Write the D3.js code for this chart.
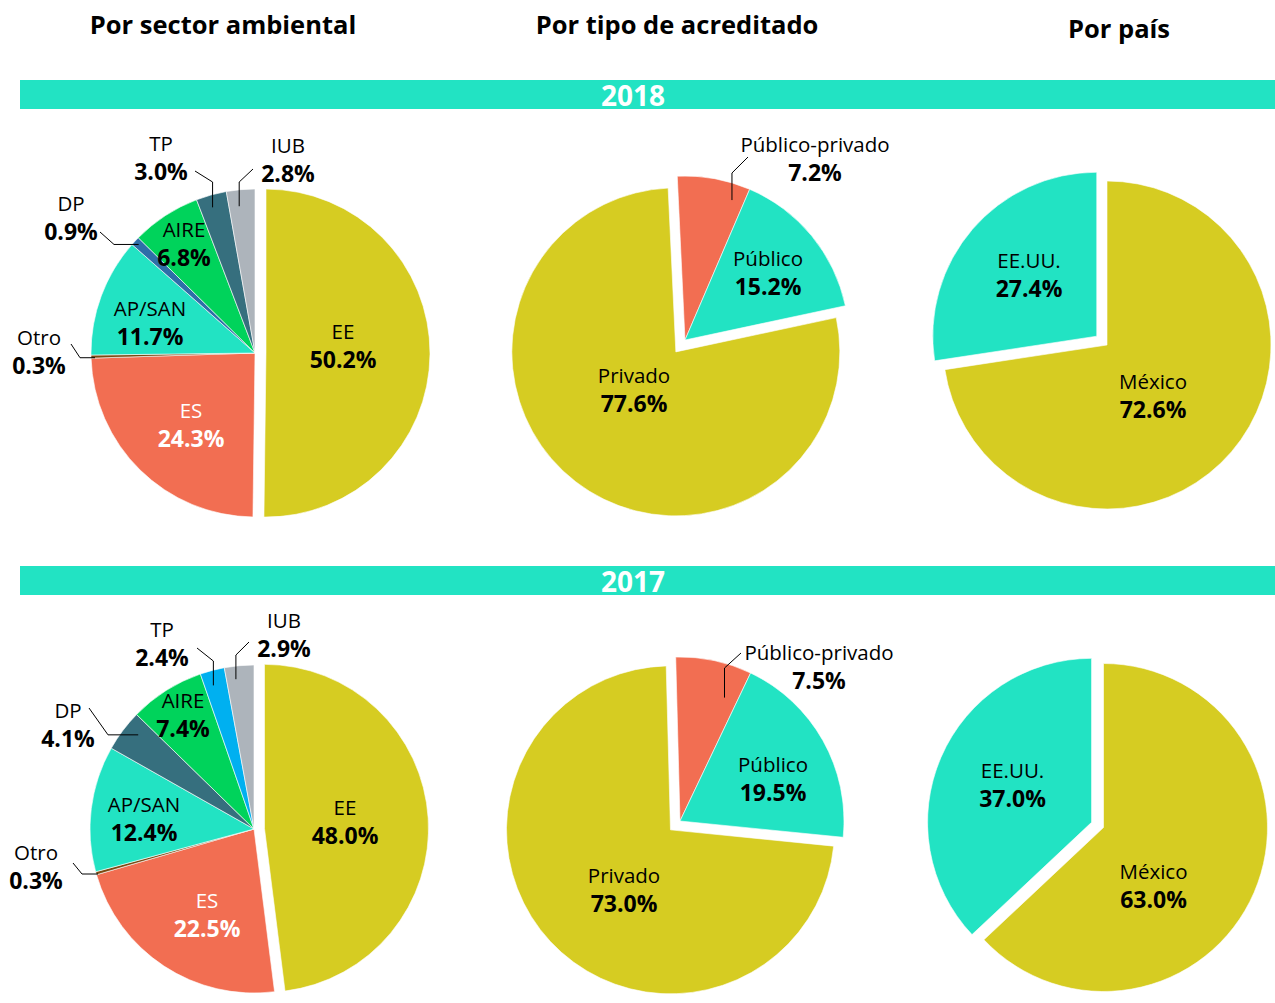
<!DOCTYPE html>
<html lang="es">
<head>
<meta charset="UTF-8">
<title>Acreditados por sector, tipo y país</title>
<script src="https://d3js.org/d3.v7.min.js"></script>
<style>
  body { margin: 0; background: #fff; font-family: "Open Sans", sans-serif; }
  .title { font-size: 25.5px; font-weight: bold; text-anchor: middle; }
  .year { font-size: 28px; font-weight: bold; fill: #fff; text-anchor: middle; }
  .cat { font-size: 20.5px; text-anchor: middle; dominant-baseline: central; }
  .pct { font-size: 23px; font-weight: bold; text-anchor: middle; dominant-baseline: central; }
  .leader { fill: none; stroke: #000; stroke-width: 1; }
</style>
</head>
<body>
<svg width="1275" height="1003"></svg>
<script>
const titles = ["Por sector ambiental", "Por tipo de acreditado", "Por país"];
const years = ["2018", "2017"];

const sectorCats = ["EE", "ES", "Otro", "AP/SAN", "DP", "AIRE", "TP", "IUB"];
const sector2018 = [50.2, 24.3, 0.3, 11.7, 0.9, 6.8, 3.0, 2.8];
const sector2017 = [48.0, 22.5, 0.3, 12.4, 4.1, 7.4, 2.4, 2.9];

const tipoCats = ["Público-privado", "Público", "Privado"];
const tipo2018 = [7.2, 15.2, 77.6];
const tipo2017 = [7.5, 19.5, 73.0];

const paisCats = ["México", "EE.UU."];
const pais2018 = [72.6, 27.4];
const pais2017 = [63.0, 37.0];

// colours
const yellow = "#d6cc22", coral = "#f26e52", teal = "#22e3c3";
const sectorColors2018 = {"EE": yellow, "ES": coral, "Otro": "#7b4a12", "AP/SAN": teal,
  "DP": "#2e6ea8", "AIRE": "#00d35b", "TP": "#366f7e", "IUB": "#adb4bb"};
const sectorColors2017 = Object.assign({}, sectorColors2018, {"DP": "#366f7e", "TP": "#00b0f0"});
const tipoColors = {"Público-privado": coral, "Público": teal, "Privado": yellow};
const paisColors = {"México": yellow, "EE.UU.": teal};

const R = 164;
const deg = Math.PI / 180;

// layout of each pie: centre, rotation, exploded slices, label offsets, leader lines
const pies = [
  {cats: sectorCats, vals: sector2018, colors: sectorColors2018, cx: 255, cy: 353, start: 0,
   explode: {"EE": 11}, white: ["ES"],
   labels: {"EE": [88, -8], "ES": [-64, 71], "Otro": [-216, -2], "AP/SAN": [-105, -31],
            "DP": [-184, -136], "AIRE": [-71, -110], "TP": [-94, -196], "IUB": [33, -194]},
   leaders: {"DP": {f: 0.5, k: 0.97, h: -141, to: [-155, -121]},
             "TP": {f: 0.43, k: 0.925, v: -171, to: [-60, -182]},
             "IUB": {f: 0.39, k: 0.9, v: -171, to: [-2, -184]},
             "Otro": {f: 0.1, k: 0.976, h: -175, to: [-184, -9]}}},
  {cats: tipoCats, vals: tipo2018, colors: tipoColors, cx: 685, cy: 340, start: -2.7,
   explode: {"Privado": 15}, white: [],
   labels: {"Público-privado": [130, -182], "Público": [83, -68], "Privado": [-51, 49]},
   leaders: {"Público-privado": {f: 0.82, k: 0.9, v: -167, to: [63, -183]}}},
  {cats: paisCats, vals: pais2018, colors: paisColors, cx: 1107, cy: 345, start: 0,
   explode: {"EE.UU.": 13.5}, white: [],
   labels: {"EE.UU.": [-78, -71], "México": [46, 50]}, leaders: {}},
  {cats: sectorCats, vals: sector2017, colors: sectorColors2017, cx: 254, cy: 829, start: 0,
   explode: {"EE": 10.5}, white: ["ES"],
   labels: {"EE": [91, -8], "ES": [-47, 85], "Otro": [-218, 37], "AP/SAN": [-110, -11],
            "DP": [-186, -105], "AIRE": [-71, -115], "TP": [-92, -186], "IUB": [30, -195]},
   leaders: {"DP": {f: 0.65, k: 0.91, h: -146, to: [-165, -121]},
             "TP": {f: 0.38, k: 0.91, v: -168, to: [-57, -181]},
             "IUB": {f: 0.34, k: 0.92, v: -174, to: [-5, -187]},
             "Otro": {f: 0.1, k: 0.99, h: -172, to: [-181, 34]}}},
  {cats: tipoCats, vals: tipo2017, colors: tipoColors, cx: 680, cy: 821, start: -1.5,
   explode: {"Privado": 13}, white: [],
   labels: {"Público-privado": [139, -155], "Público": [93, -43], "Privado": [-56, 68]},
   leaders: {"Público-privado": {f: 0.79, k: 0.8, v: -153, to: [61, -168]}}},
  {cats: paisCats, vals: pais2017, colors: paisColors, cx: 1103.5, cy: 827.5, start: 0,
   explode: {"EE.UU.": 13}, white: [],
   labels: {"EE.UU.": [-91, -44], "México": [50, 57]}, leaders: {}}
];

const svg = d3.select("svg");
const fmt = d3.format(".1f");

// column titles
const titleX = [223, 677, 1119], titleY = [34, 34, 38];
svg.selectAll(".title").data(titles).enter().append("text")
  .attr("class", "title")
  .attr("x", (d, i) => titleX[i])
  .attr("y", (d, i) => titleY[i])
  .text(d => d);

// year bands
const bandY = [80, 566];
years.forEach((y, i) => {
  svg.append("rect").attr("x", 20).attr("y", bandY[i]).attr("width", 1255).attr("height", 29)
    .attr("fill", teal);
  svg.append("text").attr("class", "year").attr("x", 633).attr("y", bandY[i] + 26).text(y);
});

const arc = d3.arc().innerRadius(0).outerRadius(R);

pies.forEach(p => {
  const data = p.cats.map((c, i) => ({cat: c, val: p.vals[i]}));
  const pie = d3.pie().sort(null).value(d => d.val)
    .startAngle(p.start * deg).endAngle(p.start * deg + 2 * Math.PI);
  const arcs = pie(data);
  const g = svg.append("g").attr("transform", `translate(${p.cx},${p.cy})`);

  g.selectAll("path").data(arcs).enter().append("path")
    .attr("d", arc)
    .attr("fill", d => p.colors[d.data.cat])
    .attr("stroke", "#fff")
    .attr("stroke-width", 0.6)
    .attr("transform", d => {
      const e = p.explode[d.data.cat] || 0;
      const a = (d.startAngle + d.endAngle) / 2;
      return `translate(${Math.sin(a) * e},${-Math.cos(a) * e})`;
    });

  // leader lines for the small slices
  arcs.forEach(d => {
    const l = p.leaders[d.data.cat];
    if (!l) return;
    const a = d.startAngle + l.f * (d.endAngle - d.startAngle);
    const s = [Math.sin(a) * l.k * R, -Math.cos(a) * l.k * R];
    const e = l.h !== undefined ? [l.h, s[1]] : [s[0], l.v];
    g.append("path").attr("class", "leader")
      .attr("d", d3.line()([s, e, l.to]));
  });

  // labels
  const lab = g.selectAll(".lab").data(arcs).enter().append("g")
    .attr("class", "lab")
    .attr("transform", d => `translate(${p.labels[d.data.cat][0]},${p.labels[d.data.cat][1]})`)
    .attr("fill", d => p.white.includes(d.data.cat) ? "#fff" : "#000");
  lab.append("text").attr("class", "cat").attr("y", -14).text(d => d.data.cat);
  lab.append("text").attr("class", "pct").attr("y", 14).text(d => fmt(d.data.val) + "%");
});
</script>
</body>
</html>
